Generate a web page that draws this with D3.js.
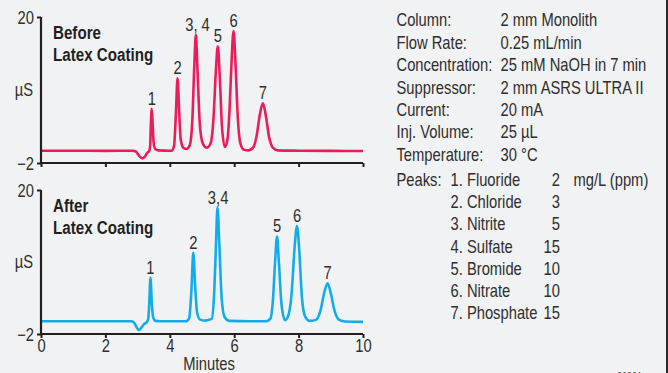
<!DOCTYPE html>
<html>
<head>
<meta charset="utf-8">
<script src="https://cdn.jsdelivr.net/npm/d3@7"></script>
<style>
  body { margin: 0; background: #f1f2f4; }
  svg { display: block; }
  text { font-family: "Liberation Sans", Arial, sans-serif; fill: #2e2e2e; }
</style>
</head>
<body>
<div id="chart"></div>
<script>
// chromatogram, before / after latex coating
// traces: [minutes, µS]
const traceBefore = [
  [0, -0.15], [1, -0.15], [2, -0.17], [2.85, -0.15], [2.95, -0.3], [3.05, -0.95], [3.15, -1.3],
  [3.24, -0.95], [3.3, -0.45], [3.36, -0.2], [3.39, 0.6], [3.41, 3.5], [3.44, 6.15], [3.47, 3.6],
  [3.5, 1.0], [3.55, 0.1], [3.65, -0.1], [4.05, -0.15], [4.13, 0.5], [4.19, 5.5], [4.24, 10.75],
  [4.29, 5.8], [4.34, 1.5], [4.42, 0.3], [4.52, 0.1], [4.62, 0.7], [4.7, 4.5], [4.76, 12.5],
  [4.81, 17.3], [4.86, 12.0], [4.93, 4.0], [5.02, 1.0], [5.15, 0.3], [5.27, 1.0], [5.36, 5.0],
  [5.43, 11.8], [5.49, 15.6], [5.55, 11.2], [5.62, 3.5], [5.71, 0.4], [5.79, 1.5], [5.86, 6.5],
  [5.92, 13.5], [5.98, 17.9], [6.04, 13.0], [6.11, 5.0], [6.19, 1.0], [6.3, 0.0], [6.45, -0.1],
  [6.6, 0.4], [6.7, 2.2], [6.8, 5.4], [6.89, 7.0], [6.98, 5.2], [7.08, 2.0], [7.2, 0.3],
  [7.35, -0.1], [8, -0.15], [9, -0.18], [10, -0.2]
];
const traceAfter = [
  [0, -0.05], [1.5, -0.05], [2.8, -0.05], [2.88, -0.2], [2.96, -0.9], [3.04, -1.4], [3.12, -1.0],
  [3.2, -0.5], [3.28, -0.2], [3.33, 0.3], [3.36, 2.5], [3.40, 6.6], [3.44, 2.8], [3.48, 0.6],
  [3.55, 0.0], [3.7, -0.05], [4.5, -0.05], [4.6, 0.4], [4.67, 4.5], [4.73, 10.4], [4.79, 5.0],
  [4.85, 1.2], [4.94, 0.2], [5.1, 0.05], [5.3, 0.3], [5.37, 3.5], [5.43, 11.0], [5.48, 17.3],
  [5.54, 11.5], [5.61, 3.5], [5.7, 0.6], [5.85, 0.0], [6.5, -0.05], [7.0, -0.05], [7.12, 0.3],
  [7.2, 3.0], [7.27, 9.0], [7.33, 12.9], [7.39, 8.8], [7.47, 2.5], [7.58, 0.1], [7.68, 0.8],
  [7.78, 4.0], [7.88, 11.5], [7.95, 14.5], [8.02, 10.8], [8.1, 3.8], [8.2, 0.7], [8.35, 0.0],
  [8.55, 0.2], [8.68, 1.6], [8.8, 4.4], [8.9, 5.75], [9.0, 4.2], [9.12, 1.5], [9.25, 0.2],
  [9.45, -0.1], [10, -0.15]
];

// peak labels (minutes, µS at top)
const labelsBefore = ["1", "2", "3, 4", "5", "6", "7"];
const peakTimesBefore = [3.44, 4.24, 4.86, 5.49, 5.98, 6.89];
const peakTopsBefore = [6.15, 10.75, 17.3, 15.6, 17.9, 7.0];
const labelsAfter = ["1", "2", "3,4", "5", "6", "7"];
const peakTimesAfter = [3.40, 4.73, 5.5, 7.33, 7.95, 8.9];
const peakTopsAfter = [6.6, 10.4, 17.3, 12.9, 14.5, 5.75];

const xTicks = [0, 2, 4, 6, 8, 10];
const yTicks = [-2, 20];

// conditions panel
const condNames = ["Column:", "Flow Rate:", "Concentration:", "Suppressor:", "Current:", "Inj. Volume:", "Temperature:"];
const condValues = ["2 mm Monolith", "0.25 mL/min", "25 mM NaOH in 7 min", "2 mm ASRS ULTRA II", "20 mA", "25 µL", "30 °C"];
const peakNames = ["1. Fluoride", "2. Chloride", "3. Nitrite", "4. Sulfate", "5. Bromide", "6. Nitrate", "7. Phosphate"];
const peakConc = [2, 3, 5, 15, 10, 10, 15];

const W = 668, H = 373;
const svg = d3.select("#chart").append("svg")
  .attr("width", W).attr("height", H);

const x = d3.scaleLinear().domain([0, 10]).range([41, 363]);

const panels = [
  {trace: traceBefore, color: "#ec1c5b", top: 17, bottom: 163, title: ["Before", "Latex Coating"],
   labels: labelsBefore, times: peakTimesBefore, tops: peakTopsBefore, tickLabels: false},
  {trace: traceAfter, color: "#12ade9", top: 190, bottom: 334, title: ["After", "Latex Coating"],
   labels: labelsAfter, times: peakTimesAfter, tops: peakTopsAfter, tickLabels: true}
];

panels.forEach(p => {
  const y = d3.scaleLinear().domain([-2, 20]).range([p.bottom, p.top]);
  const g = svg.append("g");

  const line = d3.line()
    .x(d => x(d[0]))
    .y(d => y(d[1]))
    .curve(d3.curveMonotoneX);

  g.append("path")
    .datum(p.trace)
    .attr("fill", "none")
    .attr("stroke", p.color)
    .attr("stroke-width", 2.6)
    .attr("stroke-linejoin", "round")
    .attr("d", line);

  // axes
  const yAxis = g.append("g")
    .attr("transform", `translate(${x(0)},0)`)
    .call(d3.axisLeft(y).tickValues(yTicks).tickSize(4).tickPadding(3).tickFormat(d3.format("d")));
  const xAxis = g.append("g")
    .attr("transform", `translate(0,${p.bottom})`)
    .call(d3.axisBottom(x).tickValues(xTicks).tickSize(4).tickPadding(1)
      .tickFormat(p.tickLabels ? d3.format("d") : ""));

  [yAxis, xAxis].forEach(a => {
    a.select(".domain").attr("stroke", "#231f20").attr("stroke-width", 2.2);
    a.selectAll(".tick line").attr("stroke", "#231f20").attr("stroke-width", 2);
    a.selectAll(".tick text").attr("font-size", 18).attr("fill", "#2e2e2e")
      .style("font-family", "'Liberation Sans', Arial, sans-serif");
  });
  yAxis.select(".domain").attr("d", `M0,${p.top}V${p.bottom}`);
  xAxis.select(".domain").attr("d", `M${x(0)},0H${x(10)}`);
  yAxis.selectAll(".tick text").attr("dy", "0.36em");

  g.append("text")
    .attr("x", 33).attr("y", (p.top + p.bottom) / 2 + 6.5)
    .attr("text-anchor", "end")
    .attr("font-size", 18)
    .text("µS");

  // title
  g.selectAll(".title")
    .data(p.title)
    .enter().append("text")
    .attr("x", 53)
    .attr("y", (d, i) => p.top + 22 + i * 21.6)
    .attr("font-size", 18.5)
    .attr("font-weight", "bold")
    .style("fill", "#231f20")
    .text(d => d);

  // peak numbers
  g.selectAll(".peak")
    .data(p.labels)
    .enter().append("text")
    .attr("x", (d, i) => x(p.times[i]))
    .attr("y", (d, i) => y(p.tops[i]) - 4)
    .attr("text-anchor", "middle")
    .attr("font-size", 18)
    .text(d => d);
});

svg.append("text")
  .attr("x", 209).attr("y", 370)
  .attr("text-anchor", "middle")
  .attr("font-size", 18)
  .text("Minutes");

// conditions text
const info = svg.append("g");
info.selectAll(".cname")
  .data(condNames)
  .enter().append("text")
  .attr("x", 396.5)
  .attr("y", (d, i) => 26.5 + i * 22.4)
  .attr("font-size", 18)
  .text(d => d);
info.selectAll(".cval")
  .data(condValues)
  .enter().append("text")
  .attr("x", 500.5)
  .attr("y", (d, i) => 26.5 + i * 22.4)
  .attr("font-size", 18)
  .text(d => d);

info.append("text")
  .attr("x", 396.5).attr("y", 186)
  .attr("font-size", 18)
  .text("Peaks:");
info.selectAll(".pname")
  .data(peakNames)
  .enter().append("text")
  .attr("x", 450.5)
  .attr("y", (d, i) => 186 + i * 22.25)
  .attr("font-size", 18)
  .text(d => d);
info.selectAll(".pconc")
  .data(peakConc)
  .enter().append("text")
  .attr("x", 560)
  .attr("y", (d, i) => 186 + i * 22.25)
  .attr("text-anchor", "end")
  .attr("font-size", 18)
  .text(d => d);
info.append("text")
  .attr("x", 573.5).attr("y", 186)
  .attr("font-size", 18)
  .text("mg/L (ppm)");

// figure number, mostly cut off at the bottom edge
svg.append("text")
  .attr("x", 617).attr("y", 380)
  .attr("font-size", 11)
  .style("fill", "#555")
  .text("20891");

// no condensed face installed: squeeze every text around its own x
svg.selectAll("text").each(function() {
  const t = d3.select(this);
  const tx = +t.attr("x") || 0;
  t.attr("transform", `translate(${tx},0) scale(0.82,1) translate(${-tx},0)`);
});

// dark frame edge on the right
svg.append("line")
  .attr("x1", 667).attr("x2", 667)
  .attr("y1", 0).attr("y2", H)
  .attr("stroke", "#2b2b2b")
  .attr("stroke-width", 2);
</script>
</body>
</html>
